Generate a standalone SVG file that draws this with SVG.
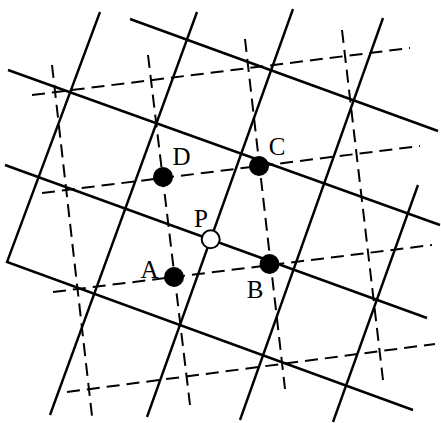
<svg xmlns="http://www.w3.org/2000/svg" width="441" height="423" viewBox="0 0 441 423">
<style>
.s{stroke:#000;stroke-width:2.4;fill:none;stroke-linejoin:miter}
.d{stroke:#000;stroke-width:2;fill:none;stroke-dasharray:13,7}
.pt{fill:#000}
.op{fill:#fff;stroke:#000;stroke-width:2}
.lb{font-family:"Liberation Serif",serif;font-size:25px;fill:#000;text-anchor:middle}
</style>
<rect width="441" height="423" fill="#fff"/>
<g id="connectors">
<polyline class="s" points="100,12 7,262 413,410"/>
<line class="s" x1="197" y1="12" x2="50" y2="415"/>
<line class="s" x1="293" y1="9" x2="147" y2="417"/>
<line class="s" x1="383" y1="18" x2="240" y2="420"/>
<line class="s" x1="418" y1="185" x2="333" y2="422"/>
<line class="s" x1="130" y1="19" x2="438" y2="131"/>
<line class="s" x1="8" y1="70" x2="440" y2="225"/>
<line class="s" x1="5" y1="165" x2="427" y2="318"/>
<line class="d" x1="52" y1="65" x2="92" y2="416"/>
<line class="d" x1="148" y1="55" x2="190" y2="405"/>
<line class="d" x1="245" y1="39" x2="285" y2="389"/>
<line class="d" x1="342" y1="30" x2="383" y2="380"/>
<line class="d" x1="32" y1="95" x2="410" y2="48"/>
<line class="d" x1="42" y1="193" x2="420" y2="146"/>
<line class="d" x1="53" y1="292" x2="432" y2="245"/>
<line class="d" x1="67" y1="392" x2="435" y2="344"/>
</g>
<g id="A"><circle class="pt" cx="174" cy="277" r="10"/><text class="lb" x="149.5" y="278">A</text></g>
<g id="B"><circle class="pt" cx="269.5" cy="264" r="10"/><text class="lb" x="255" y="298">B</text></g>
<g id="C"><circle class="pt" cx="259" cy="166" r="10"/><text class="lb" x="277" y="155">C</text></g>
<g id="D"><circle class="pt" cx="163" cy="177" r="10"/><text class="lb" x="181.5" y="165">D</text></g>
<g id="P"><circle class="op" cx="210.7" cy="239.3" r="9"/><text class="lb" x="201" y="227">P</text></g>
</svg>
